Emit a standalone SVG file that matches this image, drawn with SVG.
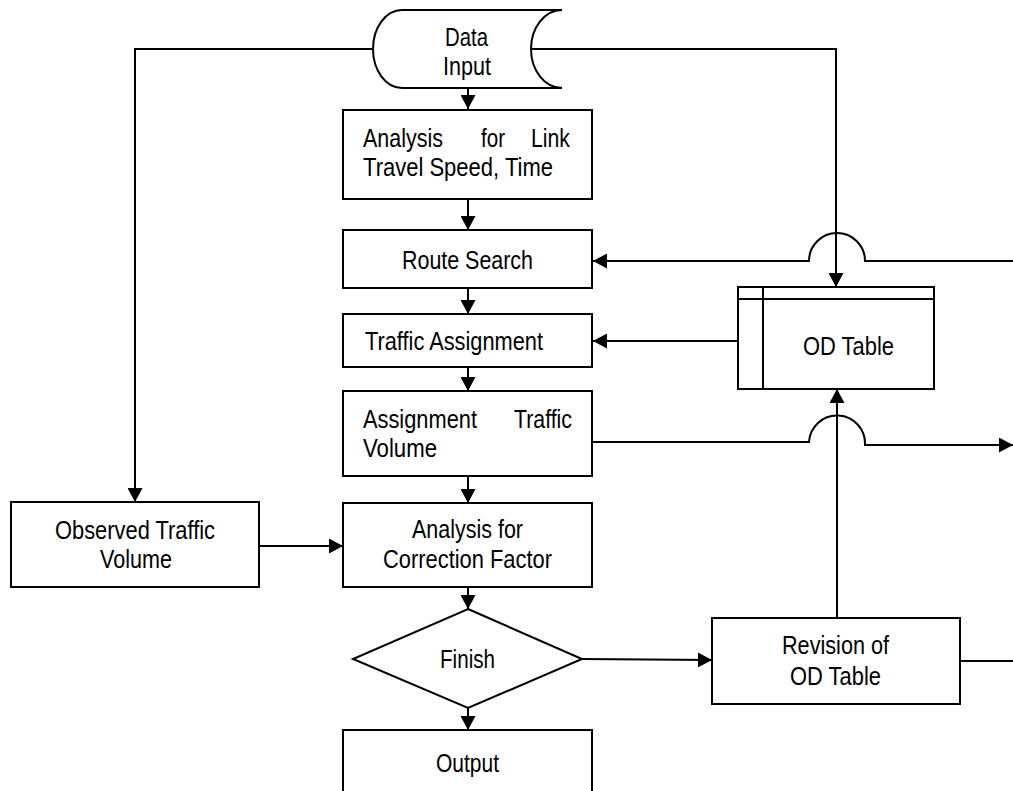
<svg xmlns="http://www.w3.org/2000/svg" width="1013" height="791" viewBox="0 0 1013 791">
<style>
.box{fill:#fff;stroke:#000;stroke-width:2}
.ln{fill:none;stroke:#000;stroke-width:2}
.arr{fill:none;stroke:#000;stroke-width:2;marker-end:url(#ah)}
text{font-family:"Liberation Sans",Arial,sans-serif;font-size:26px;fill:#000}
</style>
<defs>
<marker id="ah" markerUnits="userSpaceOnUse" markerWidth="15" markerHeight="15" refX="14" refY="7.5" orient="auto">
<path d="M0,0 L14,7.5 L0,15 Z" fill="#000"/>
</marker>
</defs>
<rect width="1013" height="791" fill="#fff"/>
<g id="connectors">
<path class="arr" d="M468,88 V109"/>
<path class="arr" d="M468,199 V230"/>
<path class="arr" d="M468,288 V314"/>
<path class="arr" d="M468,367 V391"/>
<path class="arr" d="M468,476 V503"/>
<path class="arr" d="M468,587 V609"/>
<path class="arr" d="M468,708 V730"/>
<path class="arr" d="M373,49 H135 V502"/>
<path class="arr" d="M259,546 H343"/>
<path class="arr" d="M531,49 H836 V287"/>
<path class="arr" d="M1013,261 H865 A28,28 0 0 0 809,261 H593"/>
<path class="arr" d="M738,341 H593"/>
<path class="arr" d="M593,442 H809 A28,28 0 0 1 865,445 H1013"/>
<path class="arr" d="M837,618 V389"/>
<path class="arr" d="M582,659 L712,660"/>
<path class="ln" d="M960,661 H1013"/>
</g>
<g id="data-input">
<path class="box" d="M402,10 H562 A31,39 0 0 0 562,88 H402 A29,39 0 0 1 402,10 Z"/>
<text x="445" y="46" textLength="43" lengthAdjust="spacingAndGlyphs">Data</text>
<text x="443" y="75" textLength="48" lengthAdjust="spacingAndGlyphs">Input</text>
</g>
<g id="analysis-link">
<rect class="box" x="343" y="110" width="249" height="89"/>
<text x="363" y="147" textLength="80" lengthAdjust="spacingAndGlyphs">Analysis</text>
<text x="481" y="147" textLength="24" lengthAdjust="spacingAndGlyphs">for</text>
<text x="531" y="147" textLength="39" lengthAdjust="spacingAndGlyphs">Link</text>
<text x="363" y="176" textLength="190" lengthAdjust="spacingAndGlyphs">Travel Speed, Time</text>
</g>
<g id="route-search">
<rect class="box" x="343" y="230" width="249" height="58"/>
<text x="402" y="269" textLength="131" lengthAdjust="spacingAndGlyphs">Route Search</text>
</g>
<g id="traffic-assignment">
<rect class="box" x="343" y="314" width="249" height="53"/>
<text x="365" y="350" textLength="178" lengthAdjust="spacingAndGlyphs">Traffic Assignment</text>
</g>
<g id="assignment-volume">
<rect class="box" x="343" y="391" width="249" height="85"/>
<text x="363" y="428" textLength="114" lengthAdjust="spacingAndGlyphs">Assignment</text>
<text x="514" y="428" textLength="58" lengthAdjust="spacingAndGlyphs">Traffic</text>
<text x="363" y="457" textLength="74" lengthAdjust="spacingAndGlyphs">Volume</text>
</g>
<g id="correction-factor">
<rect class="box" x="343" y="503" width="249" height="84"/>
<text x="412" y="538" textLength="111" lengthAdjust="spacingAndGlyphs">Analysis for</text>
<text x="383" y="568" textLength="169" lengthAdjust="spacingAndGlyphs">Correction Factor</text>
</g>
<g id="observed-volume">
<rect class="box" x="11" y="502" width="248" height="85"/>
<text x="55" y="539" textLength="160" lengthAdjust="spacingAndGlyphs">Observed Traffic</text>
<text x="100" y="568" textLength="72" lengthAdjust="spacingAndGlyphs">Volume</text>
</g>
<g id="od-table">
<rect class="box" x="738" y="287" width="196" height="102"/>
<path class="ln" d="M763,287 V389 M738,299 H934"/>
<text x="803" y="355" textLength="91" lengthAdjust="spacingAndGlyphs">OD Table</text>
</g>
<g id="finish">
<path class="box" d="M468,609 L582,659 L468,708 L353,659 Z"/>
<text x="440" y="668" textLength="55" lengthAdjust="spacingAndGlyphs">Finish</text>
</g>
<g id="revision">
<rect class="box" x="712" y="618" width="248" height="86"/>
<text x="782" y="654" textLength="107" lengthAdjust="spacingAndGlyphs">Revision of</text>
<text x="790" y="685" textLength="91" lengthAdjust="spacingAndGlyphs">OD Table</text>
</g>
<g id="output">
<rect class="box" x="343" y="730" width="249" height="80"/>
<text x="436" y="772" textLength="63" lengthAdjust="spacingAndGlyphs">Output</text>
</g>
</svg>
